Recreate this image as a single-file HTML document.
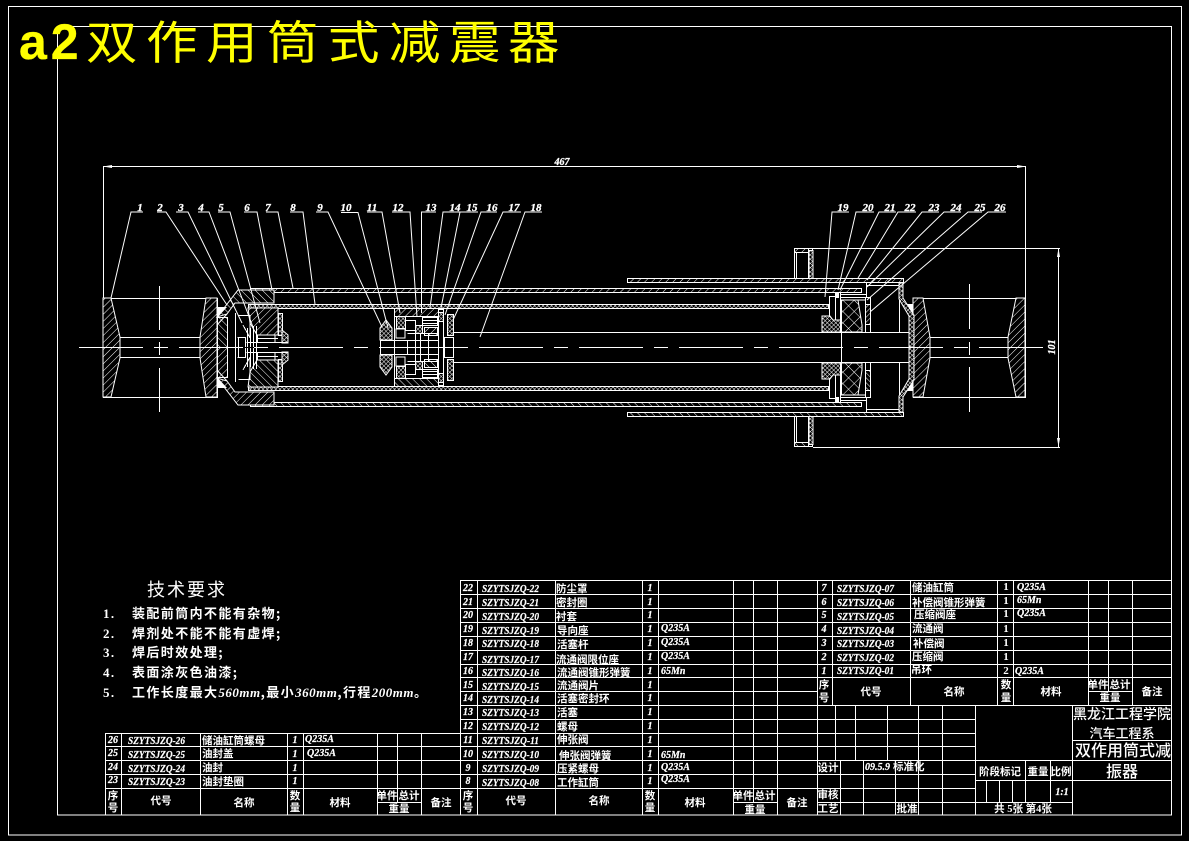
<!DOCTYPE html>
<html><head><meta charset="utf-8"><title>a2双作用筒式减震器</title>
<style>
html,body{margin:0;padding:0;background:#000;width:1189px;height:841px;overflow:hidden}
svg{display:block}
.l{stroke:#fff;stroke-width:1;shape-rendering:crispEdges}
.a{stroke:#fff;stroke-width:1}
.l:not([fill]),.a:not([fill]){fill:none}
text{fill:#fff;font-family:"Liberation Serif","Noto Sans CJK SC",serif}
.i{font-family:"Liberation Serif",serif;font-style:italic;font-weight:bold;font-size:11px;stroke:#fff;stroke-width:.3}
.c{font-family:"Liberation Serif",serif;font-style:italic;font-weight:bold;font-size:10px;stroke:#fff;stroke-width:.2}
.n{font-family:"Noto Sans CJK SC",sans-serif;font-weight:700;font-size:10.5px}
.s{text-anchor:middle}
.t{font-family:"Noto Sans CJK SC",sans-serif;font-weight:500;font-size:14px;text-anchor:middle}
</style></head><body>
<svg width="1189" height="841" viewBox="0 0 1189 841" xmlns="http://www.w3.org/2000/svg">
<defs>
<pattern id="h" width="5" height="5" patternUnits="userSpaceOnUse" patternTransform="rotate(45)"><rect width="5" height="5" fill="#000"/><path d="M0 0V5" stroke="#fff" stroke-width="1"/></pattern>
<pattern id="h2" width="5" height="5" patternUnits="userSpaceOnUse" patternTransform="rotate(-45)"><rect width="5" height="5" fill="#000"/><path d="M0 0V5" stroke="#fff" stroke-width="1"/></pattern>
<pattern id="h3" width="3.5" height="3.5" patternUnits="userSpaceOnUse" patternTransform="rotate(45)"><rect width="3.5" height="3.5" fill="#000"/><path d="M0 0V3.5" stroke="#fff" stroke-width="1"/></pattern>
<pattern id="d" width="3" height="3" patternUnits="userSpaceOnUse" patternTransform="rotate(45)"><rect width="3" height="3" fill="#000"/><path d="M0 0V3M0 0H3" stroke="#fff" stroke-width="1"/></pattern>
<pattern id="x" width="8" height="8" patternUnits="userSpaceOnUse" patternTransform="rotate(45)"><rect width="8" height="8" fill="#000"/><path d="M0 0V8M0 0H8" stroke="#fff" stroke-width="1"/></pattern>
<g id="upper">
 <!-- tubes -->
 <rect x="627.5" y="278.5" width="276" height="4" fill="url(#h)" class="l"/>
 <rect x="250.5" y="288.5" width="611" height="4" fill="url(#h)" class="l"/>
 <rect x="248.5" y="304.5" width="580" height="4" fill="url(#d)" class="l"/>
 <!-- left cap -->
 <path d="M217 317L238 290H274V303H235L227 314Z" fill="url(#h2)" class="a"/>
 <rect x="217.5" y="317.5" width="10" height="30" fill="url(#h2)" class="l"/>
 <path d="M227 314L217 325" class="a"/>
 <path d="M217 307H227L217 318Z" fill="#fff"/>
 <path d="M235.500 313V347" class="l"/>
 <!-- base valve -->
 <path d="M248 308H278V335H257L250 323Z" fill="url(#h)" class="a"/>
 <rect x="278.500" y="313.500" width="4" height="22" fill="url(#d)" class="l"/>
 <path d="M282 330L288 335V343H282Z" fill="url(#d)" class="a"/>
 <path d="M238.500 315.500H250V337M246.500 342.500H288M237.500 337.500H245.500V347M238.500 337V347M257.500 335V342M257.500 338.500H278M275 335V342" class="l"/>
 <path d="M247.500 328V347M250.500 328V347M253.500 326V347M256.500 326V347M243 325L250 338" class="l"/>
 <!-- piston -->
 <path d="M380 328L386 320L392 328V340H380Z" fill="url(#d)" class="a"/>
 <rect x="380.500" y="340.500" width="27" height="7" class="l"/>
 <rect x="394.500" y="308.500" width="44" height="8" fill="url(#h)" class="l"/>
 <path d="M394.500 308V347" class="l"/>
 <rect x="396.500" y="316.500" width="9" height="12" fill="url(#d)" class="l"/>
 <rect x="396" y="329" width="9" height="9" fill="none" class="l"/>
 <rect x="405.500" y="320.500" width="10" height="10" class="l"/>
 <rect x="415.500" y="325.500" width="7" height="8" fill="url(#d)" class="l"/>
 <rect x="422.500" y="317.500" width="15" height="8" class="l"/>
 <path d="M422 320.500H437M422 323.500H437" class="l"/>
 <rect x="424.500" y="327.500" width="13" height="8" fill="url(#h)" class="l"/>
 <path d="M407.500 333.500H438M407.500 340.500H438M420.500 333V347M428.500 333V347M415.500 333V347" class="l"/>
 <rect x="438.500" y="309.500" width="5" height="38" class="l"/>
 <rect x="438.500" y="312.500" width="5" height="9" fill="url(#d)" class="l"/>
 <rect x="447.500" y="314.500" width="6" height="21" fill="url(#d)" class="l"/>
 <rect x="444.500" y="337.500" width="9" height="10" class="l"/>
 <!-- rod -->
 <path d="M453 332.500H909" class="l"/>
 <!-- guide seal -->
 <path d="M822 316H830L833 320H841V332H822Z" fill="url(#d)" class="a"/>
 <path d="M841 300H858L862 325V332H841Z" fill="url(#x)" class="a"/>
 <path d="M829.500 296V316M835.500 292V320M840.500 292V332M829 296.500H835" class="l"/>
 <rect x="835" y="293" width="4" height="5" fill="#fff"/>
 <path d="M841 297.500H866M841 294.500H866M841 300H866" class="l"/>
 <rect x="865.500" y="297.500" width="5" height="35" class="l"/>
 <rect x="865.500" y="304.500" width="5" height="20" fill="url(#h3)" class="l"/>
 <path d="M866.500 283V298M866 285.500H899M899.500 285V332" class="l"/>
 <!-- right end cap -->
 <path d="M899 283H903V298L914 315V348H909V316L899 299Z" fill="url(#d)" class="a"/>
 <path d="M907 304H913V315Z" fill="#fff"/>
 <!-- flange -->
 <rect x="794.500" y="248.500" width="18" height="30" class="l"/>
 <rect x="794.500" y="248.500" width="14" height="4" fill="url(#h)" class="l"/>
 <rect x="809" y="250.500" width="4" height="28" fill="url(#d)" class="l"/>
 <path d="M796.500 253V278M808.500 248V278" class="l"/>
</g>
</defs>
<rect width="1189" height="841" fill="#000"/>
<!-- frames -->
<rect x="8.500" y="6.500" width="1173" height="828.500" class="l"/>
<rect x="57.500" y="26.500" width="1114" height="788.500" class="l"/>

<!-- title -->
<text x="19" y="59" style='font-family:"Liberation Sans",sans-serif;font-weight:bold;font-size:50px;letter-spacing:4px;fill:#ff0;stroke:#ff0;stroke-width:.3'>a2</text>
<text transform="scale(1.12,1)" y="59" x="76.800 130.400 183.900 238.400 292.900 347.300 400.900 453.600" style='font-family:"Noto Sans CJK SC",sans-serif;font-size:46px;fill:#ff0;font-weight:400'>双作用筒式减震器</text>

<!-- dimensions -->
<path d="M103.500 166V298M1025.500 166V298M103 166.500H1026" class="l"/>
<path d="M103 166.500L112 165V168ZM1026 166.500L1017 165V168Z" fill="#fff"/>
<text class="i s" x="562" y="165" style="font-size:10px">467</text>
<path d="M813 248.500H1060M813 447.500H1060M1058.500 248V447" class="l"/>
<path d="M1058.500 248L1057 257H1060ZM1058.500 447L1057 438H1060Z" fill="#fff"/>
<text class="i s" transform="translate(1055,347) rotate(-90)" style="font-size:10px">101</text>

<!-- eyes -->
<rect x="103.500" y="298.500" width="114" height="99" class="l"/>
<path d="M103 298H111L120 337V358L111 397H103Z" fill="url(#h)" class="a"/>
<path d="M217 298H206L200 337V358L206 397H217Z" fill="url(#h)" class="a"/>
<path d="M120 337.500H200M120 357.500H200" class="l"/>
<path d="M159.500 286V330M159.500 342V355M159.500 368V412" class="l"/>
<rect x="913.500" y="298.500" width="112" height="99" class="l"/>
<path d="M913 298H923L930 337V358L923 397H913Z" fill="url(#h)" class="a"/>
<path d="M1025 298H1016L1008 337V358L1016 397H1025Z" fill="url(#h)" class="a"/>
<path d="M930 337.500H1008M930 357.500H1008" class="l"/>
<path d="M969.500 284V329M969.500 342V355M969.500 367V412" class="l"/>

<!-- body -->
<use href="#upper"/>
<use href="#upper" transform="matrix(1 0 0 -1 0 695)"/>
<path d="M841.500 300V395" class="l"/>
<path d="M79 347.500H1043" class="l" stroke-dasharray="64 11 14 11"/>

<!-- leaders -->
<g class="a" fill="none">
<path d="M143 212H131L111 298"/><path d="M157 212H166L227 305"/><path d="M176 212H188L242 323"/><path d="M198 212H209L253 327"/><path d="M218 212H230L260 323"/><path d="M244 212H257L272 290"/><path d="M266 212H278L293 288"/><path d="M290 212H303L315 304"/><path d="M316 212H328L382 327"/><path d="M341 212.500H358L388 328"/><path d="M367 212H382L400 313"/><path d="M392 212H410L417 317"/><path d="M436 212H421.500V313"/><path d="M460 212H443L430 308"/><path d="M478 212H460L441 308"/><path d="M497 212H481L445 315"/><path d="M521 212H503L453 320"/><path d="M542 212H525L480 337"/>
<path d="M849 212H832L825 297"/><path d="M874 212H856L838 290"/><path d="M896 212H879L840 290"/><path d="M916 212H898L858 278"/><path d="M939 212H922L867 280"/><path d="M961 212H944L867 287"/><path d="M982 212H968L867 300"/><path d="M1006 212H988L870 312"/>
</g>
<g class="i s">
<text x="140" y="211">1</text><text x="160" y="211">2</text><text x="181" y="211">3</text><text x="201" y="211">4</text><text x="221" y="211">5</text><text x="247" y="211">6</text><text x="268" y="211">7</text><text x="293" y="211">8</text><text x="320" y="211">9</text><text x="346" y="211">10</text><text x="372" y="211">11</text><text x="398" y="211">12</text><text x="431" y="211">13</text><text x="455" y="211">14</text><text x="472" y="211">15</text><text x="492" y="211">16</text><text x="514" y="211">17</text><text x="536" y="211">18</text>
<text x="843" y="211">19</text><text x="868" y="211">20</text><text x="890" y="211">21</text><text x="910" y="211">22</text><text x="934" y="211">23</text><text x="956" y="211">24</text><text x="980" y="211">25</text><text x="1000" y="211">26</text>
</g>

<!-- technical requirements -->
<text x="147" y="596" style='font-family:"Noto Sans CJK SC",sans-serif;font-size:18px;letter-spacing:2px'>技术要求</text>
<g style='font-family:"Noto Sans CJK SC",sans-serif;font-size:13px;font-weight:700;letter-spacing:1.4px'>
<text x="103" y="618" style='font-family:"Liberation Serif";font-size:13px'>1.</text><text x="132" y="618" style='font-family:"Noto Sans CJK SC",sans-serif'>装配前筒内不能有杂物;</text>
<text x="103" y="638" style='font-family:"Liberation Serif";font-size:13px'>2.</text><text x="132" y="638" style='font-family:"Noto Sans CJK SC",sans-serif'>焊剂处不能不能有虚焊;</text>
<text x="103" y="657" style='font-family:"Liberation Serif";font-size:13px'>3.</text><text x="132" y="657" style='font-family:"Noto Sans CJK SC",sans-serif'>焊后时效处理;</text>
<text x="103" y="677" style='font-family:"Liberation Serif";font-size:13px'>4.</text><text x="132" y="677" style='font-family:"Noto Sans CJK SC",sans-serif'>表面涂灰色油漆;</text>
<text x="103" y="697" style='font-family:"Liberation Serif";font-size:13px'>5.</text><text x="132" y="697" style='font-family:"Noto Sans CJK SC",sans-serif'>工作长度最大<tspan style='font-family:"Liberation Serif";font-style:italic;letter-spacing:.5px'>560mm</tspan>,最小<tspan style='font-family:"Liberation Serif";font-style:italic;letter-spacing:.5px'>360mm</tspan>,行程<tspan style='font-family:"Liberation Serif";font-style:italic;letter-spacing:.5px'>200mm</tspan>。</text>
</g>

<!-- grids -->
<path class="l" d="M460.500 580.500H1171M460.500 594.500H1171M460.500 608.500H1171M460.500 622.500H1171M460.500 636.500H1171M460.500 650.500H1171M460.500 664.500H1171M460.500 677.500H1171M460.500 691.500H817M460.500 705.500H1171M460.500 719.500H975M460.500 733.500H975M105.500 733.500H461M105.500 746.500H975M105.500 760.500H975M105.500 774.500H975M105.500 788.500H975M378 802.500H422M733 802.500H777M1088 691.500H1132M975 760.500H1171M975 780.500H1171M975 802.500H1072M817 802.500H975M1072 740.500H1171"/>
<path class="l" d="M460.500 580V815M477.500 580V788M555.500 580V815M642.500 580V815M658.500 580V815M733.500 580V815M753.500 580V802M777.500 580V815M817.500 580V815
M832.500 580V705M910.500 580V705M997.500 580V705M1013.500 580V705M1088.500 580V705M1108.500 580V691M1132.500 580V705
M477.500 788V815M105.500 733V815M121.500 733V815M200.500 733V815M287.500 733V815M303.500 733V815M377.500 733V815M397.500 733V802M421.500 733V815
M835.500 705V761M855.500 705V761M887.500 705V761M918.500 705V815M942.500 705V815M975.500 705V815M1072.500 705V815
M840.500 761V815M863.500 761V815M895.500 761V815
M986.500 781V802M999.500 781V802M1012.500 781V802M1025.500 761V802M1050.500 761V802"/>

<!-- middle table -->
<g class="c s">
<text x="468" y="591">22</text><text x="468" y="605">21</text><text x="468" y="618">20</text><text x="468" y="632">19</text><text x="468" y="646">18</text><text x="468" y="660">17</text><text x="468" y="674">16</text><text x="468" y="688">15</text><text x="468" y="701">14</text><text x="468" y="715">13</text><text x="468" y="729">12</text><text x="468" y="743">11</text><text x="468" y="757">10</text><text x="468" y="771">9</text><text x="468" y="784">8</text>
<text x="650" y="591">1</text><text x="650" y="605">1</text><text x="650" y="618">1</text><text x="650" y="632">1</text><text x="650" y="646">1</text><text x="650" y="660">1</text><text x="650" y="674">1</text><text x="650" y="688">1</text><text x="650" y="701">1</text><text x="650" y="715">1</text><text x="650" y="729">1</text><text x="650" y="743">1</text><text x="650" y="757">1</text><text x="650" y="771">1</text><text x="650" y="784">1</text>
</g>
<g class="c">
<text x="482" y="592" textLength="57" lengthAdjust="spacingAndGlyphs">SZYTSJZQ-22</text><text x="482" y="606" textLength="57" lengthAdjust="spacingAndGlyphs">SZYTSJZQ-21</text><text x="482" y="620" textLength="57" lengthAdjust="spacingAndGlyphs">SZYTSJZQ-20</text><text x="482" y="634" textLength="57" lengthAdjust="spacingAndGlyphs">SZYTSJZQ-19</text><text x="482" y="647" textLength="57" lengthAdjust="spacingAndGlyphs">SZYTSJZQ-18</text><text x="482" y="663" textLength="57" lengthAdjust="spacingAndGlyphs">SZYTSJZQ-17</text><text x="482" y="676" textLength="57" lengthAdjust="spacingAndGlyphs">SZYTSJZQ-16</text><text x="482" y="690" textLength="57" lengthAdjust="spacingAndGlyphs">SZYTSJZQ-15</text><text x="482" y="703" textLength="57" lengthAdjust="spacingAndGlyphs">SZYTSJZQ-14</text><text x="482" y="716" textLength="57" lengthAdjust="spacingAndGlyphs">SZYTSJZQ-13</text><text x="482" y="730" textLength="57" lengthAdjust="spacingAndGlyphs">SZYTSJZQ-12</text><text x="482" y="744" textLength="57" lengthAdjust="spacingAndGlyphs">SZYTSJZQ-11</text><text x="482" y="758" textLength="57" lengthAdjust="spacingAndGlyphs">SZYTSJZQ-10</text><text x="482" y="772" textLength="57" lengthAdjust="spacingAndGlyphs">SZYTSJZQ-09</text><text x="482" y="786" textLength="57" lengthAdjust="spacingAndGlyphs">SZYTSJZQ-08</text>
<text x="661" y="631">Q235A</text><text x="661" y="645">Q235A</text><text x="661" y="659">Q235A</text><text x="661" y="674">65Mn</text><text x="661" y="758">65Mn</text><text x="661" y="770">Q235A</text><text x="661" y="782">Q235A</text>
</g>
<g class="n">
<text x="556" y="592">防尘罩</text><text x="556" y="606">密封圈</text><text x="556" y="620">衬套</text><text x="557" y="634">导向座</text><text x="557" y="648">活塞杆</text><text x="556" y="663">流通阀限位座</text><text x="557" y="676">流通阀锥形弹簧</text><text x="557" y="689">流通阀片</text><text x="557" y="702">活塞密封环</text><text x="557" y="716">活塞</text><text x="557" y="730">螺母</text><text x="557" y="743">伸张阀</text><text x="559" y="759">伸张阀弹簧</text><text x="557" y="772">压紧螺母</text><text x="557" y="786">工作缸筒</text>
</g>

<!-- right table -->
<g class="c s">
<text x="824" y="591">7</text><text x="824" y="605">6</text><text x="824" y="618">5</text><text x="824" y="632">4</text><text x="824" y="646">3</text><text x="824" y="660">2</text><text x="824" y="674">1</text>
</g>
<g class="c">
<text x="837" y="592" textLength="57" lengthAdjust="spacingAndGlyphs">SZYTSJZQ-07</text><text x="837" y="606" textLength="57" lengthAdjust="spacingAndGlyphs">SZYTSJZQ-06</text><text x="837" y="620" textLength="57" lengthAdjust="spacingAndGlyphs">SZYTSJZQ-05</text><text x="837" y="634" textLength="57" lengthAdjust="spacingAndGlyphs">SZYTSJZQ-04</text><text x="837" y="647" textLength="57" lengthAdjust="spacingAndGlyphs">SZYTSJZQ-03</text><text x="837" y="661" textLength="57" lengthAdjust="spacingAndGlyphs">SZYTSJZQ-02</text><text x="837" y="674" textLength="57" lengthAdjust="spacingAndGlyphs">SZYTSJZQ-01</text>
<text x="1017" y="590">Q235A</text><text x="1017" y="603">65Mn</text><text x="1017" y="616">Q235A</text><text x="1015" y="674">Q235A</text>
</g>
<g style='font-family:"Liberation Serif";font-weight:bold;font-size:11px;text-anchor:middle'>
<text x="1006" y="590">1</text><text x="1006" y="604">1</text><text x="1006" y="617">1</text><text x="1006" y="632">1</text><text x="1006" y="646">1</text><text x="1006" y="660">1</text><text x="1006" y="674">2</text>
</g>
<g class="n">
<text x="912" y="591">储油缸筒</text><text x="912" y="606">补偿阀锥形弹簧</text><text x="914" y="618">压缩阀座</text><text x="912" y="632">流通阀</text><text x="913" y="647">补偿阀</text><text x="912" y="660">压缩阀</text><text x="911" y="673">吊环</text>
</g>

<!-- left table -->
<g class="c s"><text x="113" y="743">26</text><text x="113" y="756">25</text><text x="113" y="770">24</text><text x="113" y="783">23</text>
<text x="295" y="743">1</text><text x="295" y="757">1</text><text x="295" y="771">1</text><text x="295" y="784">1</text></g>
<g class="c">
<text x="128" y="744" textLength="57" lengthAdjust="spacingAndGlyphs">SZYTSJZQ-26</text><text x="128" y="758" textLength="57" lengthAdjust="spacingAndGlyphs">SZYTSJZQ-25</text><text x="128" y="772" textLength="57" lengthAdjust="spacingAndGlyphs">SZYTSJZQ-24</text><text x="128" y="785" textLength="57" lengthAdjust="spacingAndGlyphs">SZYTSJZQ-23</text>
<text x="305" y="742">Q235A</text><text x="307" y="756">Q235A</text>
</g>
<g class="n"><text x="202" y="744">储油缸筒螺母</text><text x="202" y="757">油封盖</text><text x="202" y="771">油封</text><text x="202" y="785">油封垫圈</text></g>

<!-- headers -->
<g class="n s">
<text x="113" y="799">序</text><text x="113" y="811">号</text><text x="161" y="804">代号</text><text x="244" y="806">名称</text><text x="295" y="799">数</text><text x="295" y="811">量</text><text x="340" y="806">材料</text><text x="387" y="799">单件</text><text x="409" y="799">总计</text><text x="399" y="812">重量</text><text x="441" y="806">备注</text>
<text x="468" y="799">序</text><text x="468" y="811">号</text><text x="516" y="804">代号</text><text x="599" y="804">名称</text><text x="650" y="799">数</text><text x="650" y="811">量</text><text x="695" y="806">材料</text><text x="743" y="799">单件</text><text x="765" y="799">总计</text><text x="755" y="813">重量</text><text x="797" y="806">备注</text>
<text x="824" y="688">序</text><text x="824" y="701">号</text><text x="871" y="695">代号</text><text x="954" y="695">名称</text><text x="1006" y="688">数</text><text x="1006" y="701">量</text><text x="1051" y="695">材料</text><text x="1098" y="688">单件</text><text x="1120" y="688">总计</text><text x="1110" y="701">重量</text><text x="1152" y="695">备注</text>
<text x="828" y="771">设计</text><text x="828" y="798">审核</text><text x="828" y="812">工艺</text><text x="907" y="812">批准</text>
<text x="1000" y="775">阶段标记</text><text x="1038" y="775">重量</text><text x="1061" y="775">比例</text><text x="1023" y="812">共 5张 第4张</text>
</g>
<text class="c" x="865" y="770" style="font-size:10px">09.5.9</text>
<text class="n" x="893" y="770">标准化</text>
<text class="c s" x="1062" y="795">1:1</text>

<!-- title block -->
<text class="t" x="1122" y="719">黑龙江工程学院</text>
<text class="t" x="1122" y="738" style="font-size:13px">汽车工程系</text>
<text class="t" x="1123" y="756" style="font-size:16px;letter-spacing:0">双作用筒式减</text>
<text class="t" x="1122" y="777" style="font-size:16px">振器</text>
</svg>
</body></html>
